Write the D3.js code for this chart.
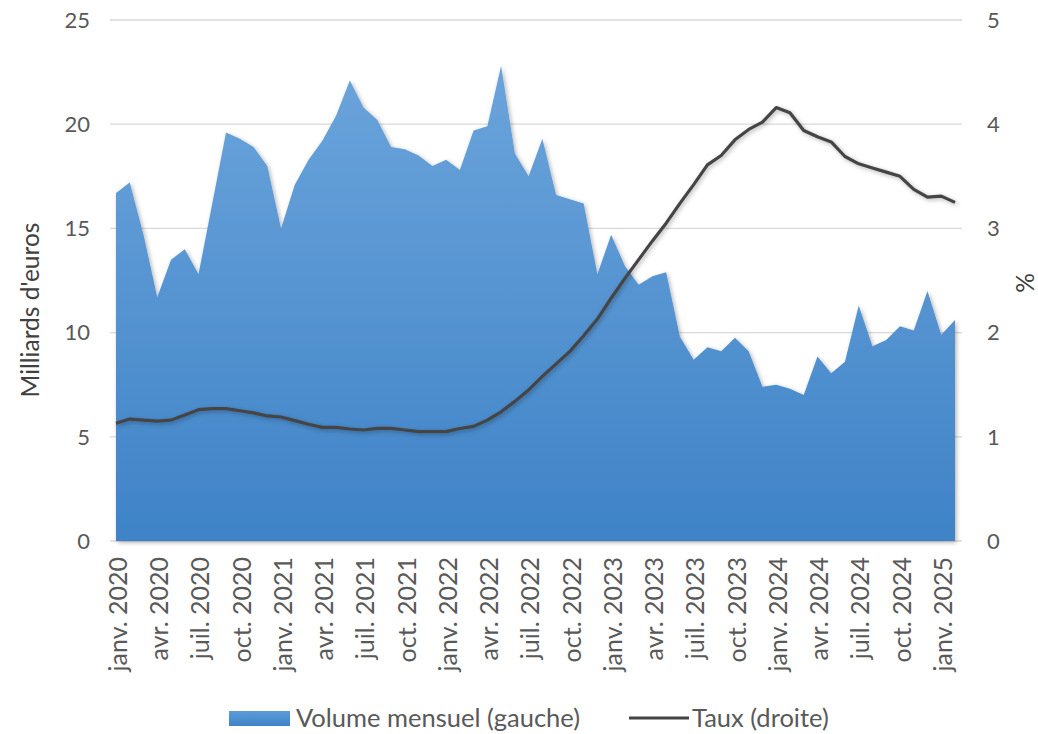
<html>
<head>
<meta charset="utf-8">
<script src="https://d3js.org/d3.v7.min.js"></script>
<style>
body { margin: 0; background: #fff; font-family: Lato, 'Liberation Sans', sans-serif; }
svg { display: block; }
.grid line { stroke: #d9d9d9; stroke-width: 1.3; }
.tick-label { fill: #595959; font-size: 22px; }
.x-label { fill: #595959; font-size: 25px; }
.axis-title { fill: #404040; font-size: 24.5px; }
.legend-text { fill: #595959; font-size: 25.5px; }
</style>
</head>
<body>
<svg id="chart"></svg>
<script>

var width = 1038,
    height = 734;

// Volume mensuel (Mds EUR), janv. 2020 -> févr. 2025
var volume = [16.7, 17.2, 14.7, 11.7, 13.5, 14.0, 12.8, 16.2, 19.6, 19.3,
              18.9, 18.0, 15.0, 17.1, 18.3, 19.2, 20.4, 22.1, 20.8, 20.2,
              18.9, 18.8, 18.5, 18.0, 18.3, 17.8, 19.7, 19.9, 22.8, 18.6,
              17.5, 19.3, 16.6, 16.4, 16.2, 12.8, 14.7, 13.2, 12.3, 12.7,
              12.9, 9.8, 8.7, 9.3, 9.1, 9.75, 9.1, 7.4, 7.5, 7.3,
              7.0, 8.85, 8.05, 8.6, 11.3, 9.35, 9.65, 10.3, 10.1, 12.0,
              9.9, 10.6];

// Taux (%)
var taux = [1.13, 1.17, 1.16, 1.15, 1.16, 1.21, 1.26, 1.27, 1.27, 1.25,
            1.23, 1.20, 1.19, 1.155, 1.12, 1.09, 1.09, 1.075, 1.065, 1.08,
            1.08, 1.065, 1.05, 1.05, 1.05, 1.08, 1.10, 1.16, 1.24, 1.34,
            1.45, 1.58, 1.70, 1.82, 1.97, 2.13, 2.33, 2.52, 2.70, 2.88,
            3.05, 3.24, 3.42, 3.61, 3.70, 3.85, 3.95, 4.02, 4.16, 4.11,
            3.94, 3.88, 3.83, 3.69, 3.62, 3.58, 3.54, 3.50, 3.375, 3.30,
            3.31, 3.25];

// one label every 3 months
var tickLabels = ['janv. 2020', 'avr. 2020', 'juil. 2020', 'oct. 2020',
                  'janv. 2021', 'avr. 2021', 'juil. 2021', 'oct. 2021',
                  'janv. 2022', 'avr. 2022', 'juil. 2022', 'oct. 2022',
                  'janv. 2023', 'avr. 2023', 'juil. 2023', 'oct. 2023',
                  'janv. 2024', 'avr. 2024', 'juil. 2024', 'oct. 2024',
                  'janv. 2025'];

var leftTicks = [0, 5, 10, 15, 20, 25],
    rightTicks = [0, 1, 2, 3, 4, 5];

var svg = d3.select('#chart')
  .attr('width', width)
  .attr('height', height);

var x = d3.scaleLinear()
  .domain([0, volume.length - 1])
  .range([116, 955]);

var yLeft = d3.scaleLinear()
  .domain([0, 25])
  .range([541, 20]);

var yRight = d3.scaleLinear()
  .domain([0, 5])
  .range([541, 20]);

var defs = svg.append('defs');

var grad = defs.append('linearGradient')
  .attr('id', 'areaGrad')
  .attr('gradientUnits', 'userSpaceOnUse')
  .attr('x1', 0).attr('x2', 0)
  .attr('y1', yLeft(d3.max(volume))).attr('y2', yLeft(0));
grad.append('stop').attr('offset', '0%').attr('stop-color', '#6ba4db');
grad.append('stop').attr('offset', '100%').attr('stop-color', '#3f83c7');

var legGrad = defs.append('linearGradient')
  .attr('id', 'legGrad')
  .attr('x1', 0).attr('x2', 0)
  .attr('y1', 0).attr('y2', 1);
legGrad.append('stop').attr('offset', '0%').attr('stop-color', '#5d9bd8');
legGrad.append('stop').attr('offset', '100%').attr('stop-color', '#3f83c7');

var shadow = defs.append('filter')
  .attr('id', 'shadow')
  .attr('x', '-5%').attr('y', '-5%')
  .attr('width', '110%').attr('height', '110%');
shadow.append('feDropShadow')
  .attr('dx', 1.5).attr('dy', 1.5)
  .attr('stdDeviation', 2)
  .attr('flood-color', '#000')
  .attr('flood-opacity', 0.3);

// gridlines
svg.append('g')
  .attr('class', 'grid')
  .selectAll('line')
  .data(leftTicks)
  .enter().append('line')
    .attr('x1', 110)
    .attr('x2', 962)
    .attr('y1', function(d) { return yLeft(d); })
    .attr('y2', function(d) { return yLeft(d); });

// area
var area = d3.area()
  .x(function(d, i) { return x(i); })
  .y0(yLeft(0))
  .y1(function(d) { return yLeft(d); });

svg.append('path')
  .datum(volume)
  .attr('d', area)
  .attr('fill', 'url(#areaGrad)')
  .attr('filter', 'url(#shadow)');

// line
var line = d3.line()
  .x(function(d, i) { return x(i); })
  .y(function(d) { return yRight(d); });

svg.append('path')
  .datum(taux)
  .attr('d', line)
  .attr('fill', 'none')
  .attr('stroke', '#444')
  .attr('stroke-width', 3.2)
  .attr('stroke-linejoin', 'round')
  .attr('filter', 'url(#shadow)');

// left axis labels
svg.append('g').selectAll('text')
  .data(leftTicks)
  .enter().append('text')
    .attr('class', 'tick-label')
    .attr('x', 90)
    .attr('y', function(d) { return yLeft(d); })
    .attr('dy', '0.35em')
    .attr('text-anchor', 'end')
    .text(function(d) { return d; });

// right axis labels
svg.append('g').selectAll('text')
  .data(rightTicks)
  .enter().append('text')
    .attr('class', 'tick-label')
    .attr('x', 987)
    .attr('y', function(d) { return yRight(d); })
    .attr('dy', '0.35em')
    .attr('text-anchor', 'start')
    .text(function(d) { return d; });

// x labels, rotated
svg.append('g').selectAll('text')
  .data(tickLabels)
  .enter().append('text')
    .attr('class', 'x-label')
    .attr('text-anchor', 'end')
    .attr('dy', '0.35em')
    .attr('transform', function(d, i) {
      return 'translate(' + (x(i * 3) + 2) + ',557)rotate(-90)';
    })
    .text(function(d) { return d; });

// axis titles
svg.append('text')
  .attr('class', 'axis-title')
  .attr('text-anchor', 'middle')
  .attr('transform', 'translate(30,310)rotate(-90)')
  .attr('dy', '0.35em')
  .text("Milliards d'euros");

svg.append('text')
  .attr('class', 'axis-title')
  .attr('text-anchor', 'middle')
  .attr('transform', 'translate(1025,283)rotate(-90)')
  .attr('dy', '0.35em')
  .text('%');

// legend
var legend = svg.append('g');

legend.append('rect')
  .attr('x', 229).attr('y', 711)
  .attr('width', 61).attr('height', 15)
  .attr('fill', 'url(#legGrad)');

legend.append('text')
  .attr('class', 'legend-text')
  .attr('x', 296).attr('y', 718)
  .attr('dy', '0.35em')
  .text('Volume mensuel (gauche)');

legend.append('line')
  .attr('x1', 629).attr('x2', 689)
  .attr('y1', 718).attr('y2', 718)
  .attr('stroke', '#444')
  .attr('stroke-width', 3.2);

legend.append('text')
  .attr('class', 'legend-text')
  .attr('x', 692).attr('y', 718)
  .attr('dy', '0.35em')
  .text('Taux (droite)');

</script>
</body>
</html>
